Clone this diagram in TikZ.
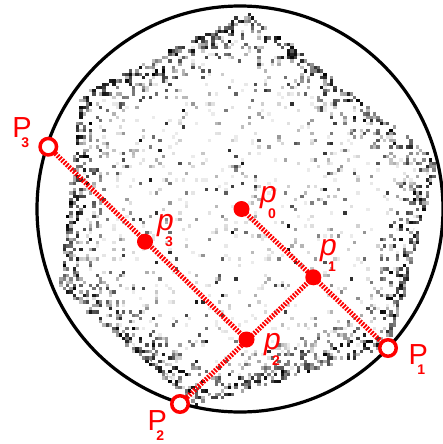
\documentclass[tikz,border=0pt]{standalone}
\usepackage{fontspec}
\setmainfont{Liberation Sans}
\setsansfont{Liberation Sans}
\newcommand\bigP[1]{{\fontsize{29}{29}\selectfont P}\kern-10.5pt\raisebox{-10.5pt}{\fontsize{14}{14}\selectfont\bfseries #1}}
\newcommand\smallp[1]{{\fontsize{30}{30}\selectfont\itshape p}\kern-8.5pt\raisebox{-16pt}{\fontsize{14}{14}\selectfont\bfseries #1}}
\tikzset{
  redline/.style={red, line width=5pt, dash pattern=on 1.8pt off 1.4pt},
  soliddot/.style={circle, fill=red, minimum size=16pt, inner sep=0pt},
  opendot/.style={circle, draw=red, fill=white, line width=3.5pt, minimum size=16.5pt, inner sep=0pt},
  lab/.style={text=red, anchor=base west, inner sep=0pt, outer sep=0pt},
  rim/.style={black, line width=3.2pt},
}
\begin{document}
\begin{tikzpicture}[x=1pt, y=-1pt]
\useasboundingbox (0,0) rectangle (442,444);
\pgfmathsetseed{7}
% noisy hexagon texture
\begin{scope}
\clip (248,15) -- (432,162) -- (385,342) -- (195,400) -- (62,283) -- (83,96) -- cycle;
\foreach \k in {1,...,1300}{
  \pgfmathsetmacro\xx{3.3*round((62+370*rnd)/3.3)}
  \pgfmathsetmacro\yy{3.3*round((15+385*rnd)/3.3)}
  \pgfmathsetmacro\r{rnd}
  \pgfmathtruncatemacro\g{8+85*\r*\r*\r}
  \fill[black!\g] (\xx,\yy) rectangle ++(3.3,3.3);
}
\end{scope}
\foreach \ax/\ay/\bx/\by in {248/15/432/162, 432/162/385/342, 385/342/195/400, 195/400/62/283, 62/283/83/96, 83/96/248/15}{
  \pgfmathsetmacro\dx{\bx-\ax}
  \pgfmathsetmacro\dy{\by-\ay}
  \pgfmathsetmacro\L{veclen(\dx,\dy)}
  \foreach \k in {1,...,170}{
    \pgfmathsetmacro\t{rnd}
    \pgfmathsetmacro\r{rnd}
    \pgfmathsetmacro\o{-3+18*\r*\r}
    \pgfmathsetmacro\xx{3.3*round((\ax+(\t)*(\dx)-(\o)*(\dy)/\L)/3.3)}
    \pgfmathsetmacro\yy{3.3*round((\ay+(\t)*(\dy)+(\o)*(\dx)/\L)/3.3)}
    \pgfmathtruncatemacro\g{25+75*rnd}
    \fill[black!\g] (\xx,\yy) rectangle ++(3.3,3.3);
  }
  \foreach \k in {1,...,50}{
    \pgfmathsetmacro\t{0.1+0.8*rnd}
    \pgfmathsetmacro\o{16+14*rnd}
    \pgfmathsetmacro\xx{3.3*round((\ax+(\t)*(\dx)-(\o)*(\dy)/\L)/3.3)}
    \pgfmathsetmacro\yy{3.3*round((\ay+(\t)*(\dy)+(\o)*(\dx)/\L)/3.3)}
    \pgfmathtruncatemacro\g{15+60*rnd}
    \fill[black!\g] (\xx,\yy) rectangle ++(3.3,3.3);
  }
}
% circle
\draw[rim] (240,209) circle[radius=203pt];
% points
\coordinate (c0) at (241.5,209);
\coordinate (c1) at (313.3,277.3);
\coordinate (c2) at (246.5,339.5);
\coordinate (c3) at (145,241.7);
\coordinate (C1) at (388,348);
\coordinate (C2) at (180,404);
\coordinate (C3) at (48.3,146.7);
% lines
\draw[redline] (c0) -- (C1);
\draw[redline] (C2) -- (c1);
\draw[redline] (C3) -- (c2);
% dots
\node[soliddot] (p0) at (c0) {};
\node[soliddot] (p1) at (c1) {};
\node[soliddot] (p2) at (c2) {};
\node[soliddot] (p3) at (c3) {};
\node[opendot] (P1) at (C1) {};
\node[opendot] (P2) at (C2) {};
\node[opendot] (P3) at (C3) {};
% labels
\node[lab] (lP3) at (12.5,137) {\bigP{3}};
\node[lab] (lP1) at (408.5,364) {\bigP{1}};
\node[lab] (lP2) at (147.5,430) {\bigP{2}};
\node[lab] (lp0) at (260,202) {\smallp{0}};
\node[lab] (lp1) at (320,255) {\smallp{1}};
\node[lab] (lp2) at (264,349) {\smallp{2}};
\node[lab] (lp3) at (157,230) {\smallp{3}};
\end{tikzpicture}
\end{document}
